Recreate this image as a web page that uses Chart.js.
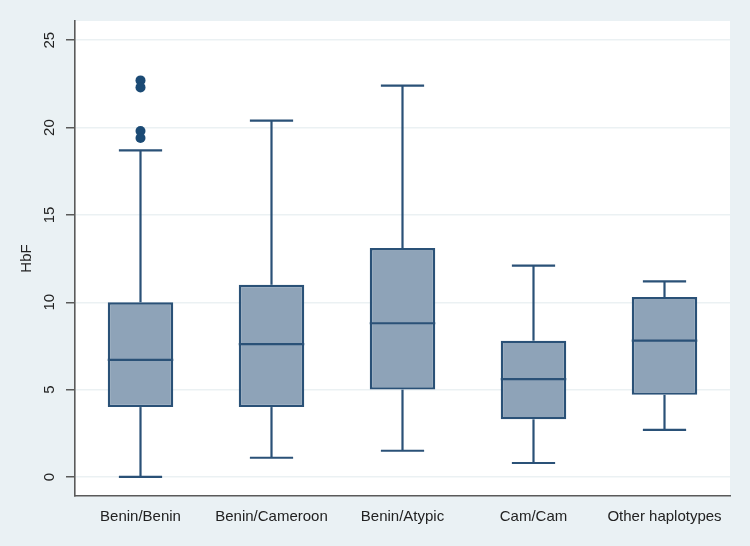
<!DOCTYPE html>
<html lang="en">
<head>
  <meta charset="UTF-8">
  <title>HbF by haplotype</title>
  <script src="https://cdn.jsdelivr.net/npm/chart.js"></script>
  <style>
    body { margin: 0; background: #eaf1f4; }
    canvas { display: block; }
  </style>
</head>
<body>
  <canvas id="chart" width="750" height="546"></canvas>

  <script>
    // values
    const categories = ["Benin/Benin", "Benin/Cameroon", "Benin/Atypic", "Cam/Cam", "Other haplotypes"];
    const lowerWhisker = [0.0, 1.1, 1.5, 0.8, 2.7];
    const q1 = [4.0, 4.0, 5.0, 3.3, 4.7];
    const median = [6.7, 7.6, 8.8, 5.6, 7.8];
    const q3 = [10.0, 11.0, 13.1, 7.8, 10.3];
    const upperWhisker = [18.7, 20.4, 22.4, 12.1, 11.2];
    const outlierCategory = ["Benin/Benin", "Benin/Benin", "Benin/Benin", "Benin/Benin"];
    const outlierValues = [22.7, 22.3, 19.8, 19.4];
    const yTicks = [0, 5, 10, 15, 20, 25];

    const FONT = "'Liberation Sans', Arial, sans-serif";
    const LINE = "#2a5177";

    // background + white plot region
    const backdrop = {
      id: "backdrop",
      beforeDraw(chart) {
        const { ctx, chartArea: a } = chart;
        ctx.save();
        ctx.fillStyle = "#eaf1f4";
        ctx.fillRect(0, 0, chart.width, chart.height);
        ctx.fillStyle = "#ffffff";
        ctx.fillRect(a.left, a.top, a.right - a.left, a.bottom - a.top);
        ctx.restore();
      }
    };

    // whiskers, caps and medians on top of the box bars
    const boxParts = {
      id: "boxParts",
      afterDatasetsDraw(chart) {
        const { ctx } = chart;
        const y = chart.scales.y;
        const bars = chart.getDatasetMeta(0).data;
        ctx.save();
        ctx.strokeStyle = LINE;
        ctx.lineWidth = 2.2;
        bars.forEach((bar, i) => {
          const cx = bar.x;
          const half = bar.width / 2;
          const cap = bar.width * 0.33;
          const seg = (x1, y1, x2, y2) => {
            ctx.beginPath();
            ctx.moveTo(x1, y1);
            ctx.lineTo(x2, y2);
            ctx.stroke();
          };
          seg(cx, y.getPixelForValue(lowerWhisker[i]), cx, y.getPixelForValue(q1[i]));
          seg(cx, y.getPixelForValue(q3[i]), cx, y.getPixelForValue(upperWhisker[i]));
          seg(cx - cap, y.getPixelForValue(lowerWhisker[i]), cx + cap, y.getPixelForValue(lowerWhisker[i]));
          seg(cx - cap, y.getPixelForValue(upperWhisker[i]), cx + cap, y.getPixelForValue(upperWhisker[i]));
          seg(cx - half, y.getPixelForValue(median[i]), cx + half, y.getPixelForValue(median[i]));
        });
        ctx.restore();
      }
    };

    // rotated y tick labels and axis title
    const yLabels = {
      id: "yLabels",
      afterDraw(chart) {
        const { ctx, chartArea: a } = chart;
        const y = chart.scales.y;
        ctx.save();
        ctx.fillStyle = "#222";
        ctx.font = "15px " + FONT;
        ctx.textAlign = "center";
        ctx.textBaseline = "middle";
        y.ticks.forEach(t => {
          ctx.save();
          ctx.translate(50, y.getPixelForValue(t.value));
          ctx.rotate(-Math.PI / 2);
          ctx.fillText(String(t.value), 0, 0);
          ctx.restore();
        });
        ctx.translate(27, (a.top + a.bottom) / 2);
        ctx.rotate(-Math.PI / 2);
        ctx.fillText("HbF", 0, 0);
        ctx.restore();
      }
    };

    const outlierPoints = outlierValues.map((v, i) => ({ x: outlierCategory[i], y: v }));

    new Chart(document.getElementById("chart"), {
      type: "bar",
      data: {
        labels: categories,
        datasets: [{
          label: "IQR",
          data: categories.map((c, i) => [q1[i], q3[i]]),
          backgroundColor: "#8ea3b8",
          borderColor: LINE,
          borderWidth: 2.4,
          borderSkipped: false,
          barPercentage: 0.5,
          categoryPercentage: 1
        }, {
          type: "line",
          label: "Outliers",
          data: outlierPoints,
          showLine: false,
          pointRadius: 5,
          pointBackgroundColor: "#1b4a74",
          pointBorderColor: "#1b4a74",
          pointBorderWidth: 0
        }]
      },
      options: {
        responsive: false,
        animation: false,
        layout: { padding: { top: 21, right: 20, left: 0, bottom: 0 } },
        plugins: {
          legend: { display: false },
          tooltip: { enabled: false }
        },
        scales: {
          x: {
            grid: { display: false, drawTicks: false },
            border: { display: true, color: "#5a5a5a", width: 1.6 },
            ticks: { color: "#222", font: { family: FONT, size: 15 }, padding: 12, maxRotation: 0 },
            afterFit(scale) { scale.height = 50; }
          },
          y: {
            min: -1.09,
            max: 26.1,
            afterBuildTicks(scale) { scale.ticks = yTicks.map(v => ({ value: v })); },
            afterFit(scale) { scale.width = 75; },
            ticks: { display: false },
            grid: { color: "#ebf1f3", lineWidth: 1.5, drawTicks: true, tickLength: 9, tickColor: "#5a5a5a", tickWidth: 1.5 },
            border: { display: true, color: "#5a5a5a", width: 1.6 }
          }
        }
      },
      plugins: [backdrop, boxParts, yLabels]
    });
  </script>
</body>
</html>
